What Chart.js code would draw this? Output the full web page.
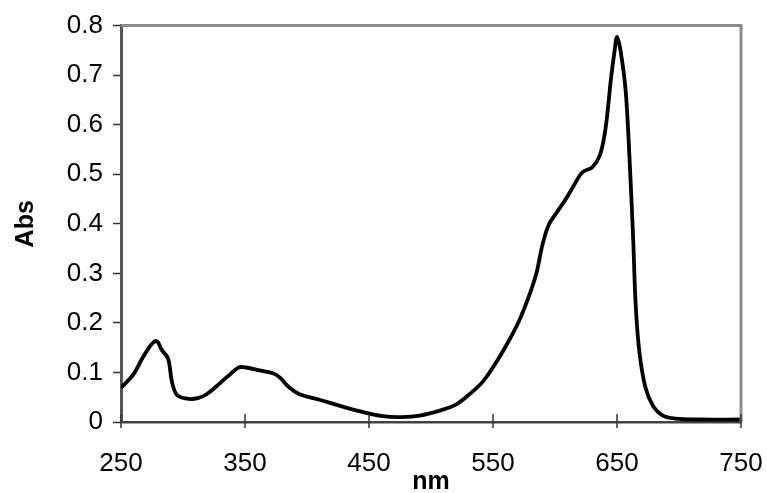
<!DOCTYPE html>
<html>
<head>
<meta charset="utf-8">
<script src="https://cdn.jsdelivr.net/npm/chart.js@4/dist/chart.umd.min.js"></script>
<style>
  html, body { margin: 0; padding: 0; background: #fff; }
  #wrap { width: 767px; height: 493px; }
</style>
</head>
<body>
<div id="wrap"><canvas id="spectrum"></canvas></div>
<script>
// wavelength (nm) and absorbance
const wavelengths = [250, 260, 268, 275, 279, 283, 288, 291, 295, 303, 312, 319, 327, 336, 345, 351, 362, 373, 378, 386, 394, 410, 426, 442, 461, 476, 491, 507, 520, 531, 542, 553, 563, 571, 579, 585, 590, 595, 602, 609, 616, 622, 630, 636, 640, 643, 645, 648, 650, 653, 657, 660, 663, 665, 668, 673, 679, 687, 697, 716, 750];
const absorbance = [0.069, 0.096, 0.132, 0.158, 0.163, 0.145, 0.128, 0.082, 0.055, 0.047, 0.048, 0.056, 0.072, 0.092, 0.11, 0.11, 0.104, 0.098, 0.09, 0.069, 0.056, 0.045, 0.033, 0.022, 0.012, 0.01, 0.013, 0.023, 0.035, 0.056, 0.082, 0.122, 0.165, 0.204, 0.254, 0.30, 0.359, 0.398, 0.425, 0.451, 0.481, 0.504, 0.514, 0.537, 0.58, 0.64, 0.69, 0.748, 0.777, 0.747, 0.668, 0.537, 0.372, 0.24, 0.142, 0.069, 0.033, 0.013, 0.007, 0.005, 0.005];
const xTicks = [250, 350, 450, 550, 650, 750];
const yTicks = [0, 0.1, 0.2, 0.3, 0.4, 0.5, 0.6, 0.7, 0.8];

const font = "'Liberation Sans', Arial, sans-serif";

// grey frame on top/right, and x tick marks that cross the axis line
const framePlugin = {
  id: 'frame',
  afterDraw(chart) {
    const ctx = chart.ctx;
    const a = chart.chartArea;
    const xs = chart.scales.x;
    ctx.save();
    ctx.strokeStyle = '#8c8c8c';
    ctx.lineWidth = 3;
    ctx.beginPath();
    ctx.moveTo(a.left, a.top);
    ctx.lineTo(a.right, a.top);
    ctx.lineTo(a.right, a.bottom);
    ctx.stroke();
    ctx.strokeStyle = '#333';
    ctx.lineWidth = 1.5;
    xTicks.forEach(v => {
      const px = xs.getPixelForValue(v);
      ctx.beginPath();
      ctx.moveTo(px, a.bottom + 6);
      ctx.lineTo(px, a.bottom - 8);
      ctx.stroke();
    });
    ctx.restore();
  }
};

new Chart(document.getElementById('spectrum'), {
  type: 'line',
  data: {
    datasets: [{
      data: wavelengths.map((w, i) => ({ x: w, y: absorbance[i] })),
      borderColor: '#000',
      borderWidth: 3.8,
      pointRadius: 0,
      tension: 0.35,
      fill: false
    }]
  },
  options: {
    responsive: true,
    maintainAspectRatio: false,
    animation: false,
    layout: { padding: { top: 17, right: 26, left: 0, bottom: 0 } },
    plugins: { legend: { display: false }, tooltip: { enabled: false } },
    scales: {
      x: {
        type: 'linear',
        min: 250,
        max: 750,
        afterBuildTicks: s => { s.ticks = xTicks.map(v => ({ value: v })); },
        afterFit: s => { s.height = 71; },
        ticks: { color: '#000', font: { family: font, size: 26 }, padding: 2, maxRotation: 0 },
        grid: { drawOnChartArea: false, tickLength: 24, tickColor: 'rgba(0,0,0,0)' },
        border: { color: '#444', width: 2.5 },
        title: { display: true, text: 'nm', color: '#000', font: { family: font, size: 25, weight: 'bold' }, padding: { top: 0, bottom: -4 } }
      },
      y: {
        min: 0,
        max: 0.8,
        afterBuildTicks: s => { s.ticks = yTicks.map(v => ({ value: v })); },
        afterFit: s => { s.width = 121; },
        ticks: { color: '#000', font: { family: font, size: 26 }, padding: 10 },
        grid: { drawOnChartArea: false, tickLength: 8, color: '#333', tickWidth: 1.5 },
        border: { color: '#555', width: 3 },
        title: { display: true, text: 'Abs', color: '#000', font: { family: font, size: 25, weight: 'bold' }, padding: { top: 11, bottom: 0 } }
      }
    }
  },
  plugins: [framePlugin]
});
</script>
</body>
</html>
